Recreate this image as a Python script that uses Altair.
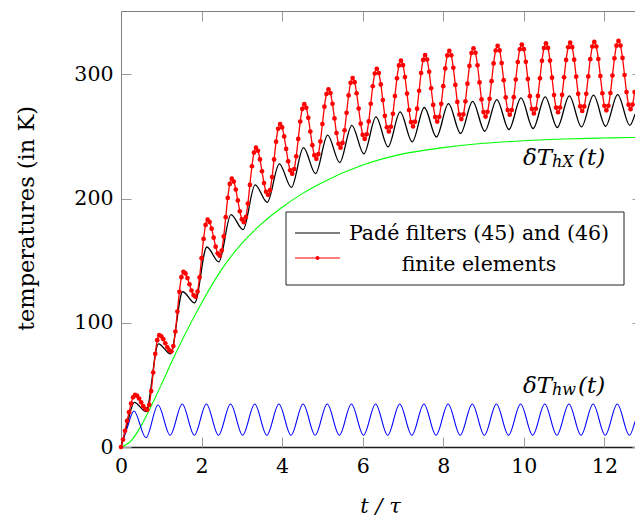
import altair as alt
import pandas as pd

W, H = 514, 436
FONT = "DejaVu Serif"

# axis ticks
x_ticks = [0, 2, 4, 6, 8, 10, 12]
y_ticks = [0, 100, 200, 300]

# green: deltaT_hX(t)
green_t = [0, 0.25, 0.5, 0.75, 1.0, 1.25, 1.5, 2.0, 2.5, 3.0, 3.5, 4.0, 4.5, 5.0,
           6.0, 7.0, 8.0, 9.0, 10.0, 11.0, 12.0, 12.76]
green_v = [0, 5, 17, 33, 50, 68, 85, 116, 143, 164, 180, 193, 204, 213,
           227, 236, 241, 244.5, 246.6, 248, 248.8, 249.2]

# blue: deltaT_hw(t)  (extrema)
blue_t = [0, 0.15, 0.32, 0.62, 0.92, 1.22,
          1.52, 1.82, 2.12, 2.42, 2.72, 3.02, 3.32, 3.62, 3.92, 4.22,
          4.52, 4.82, 5.12, 5.42, 5.72, 6.02, 6.32, 6.62, 6.92, 7.22,
          7.52, 7.82, 8.12, 8.42, 8.72, 9.02, 9.32, 9.62, 9.92, 10.22,
          10.52, 10.82, 11.12, 11.42, 11.72, 12.02, 12.32, 12.62, 12.76]
blue_v = [0, 15, 29, 7.5, 33.8, 9.4,
          34.6, 9.4, 34.6, 9.4, 34.6, 9.4, 34.6, 9.4, 34.6, 9.4,
          34.6, 9.4, 34.6, 9.4, 34.6, 9.4, 34.6, 9.4, 34.6, 9.4,
          34.6, 9.4, 34.6, 9.4, 34.6, 9.4, 34.6, 9.4, 34.6, 9.4,
          34.6, 9.4, 34.6, 9.4, 34.6, 9.4, 34.6, 9.4, 20.5]

# black: Pade filters (extrema)
black_t = [0, 0.15, 0.33, 0.62, 0.93, 1.23, 1.53, 1.83, 2.13, 2.43, 2.73, 3.03,
           3.33, 3.63, 3.93, 4.23, 4.53, 4.83, 5.13, 5.43, 5.73, 6.03, 6.33, 6.63,
           6.93, 7.23, 7.53, 7.83, 8.13, 8.43, 8.73, 9.03, 9.33, 9.63, 9.93, 10.23,
           10.53, 10.83, 11.13, 11.43, 11.73, 12.03, 12.33, 12.63, 12.76]
black_v = [0, 18, 36, 28.5, 83, 75, 125, 116, 161, 149, 187, 175,
           211, 197, 228, 209, 241, 220, 251, 229, 259, 236, 265.7, 241.6,
           269.8, 245.6, 273.3, 249.6, 276.5, 252.4, 278.3, 254.2, 279.7, 255.6, 281, 256.4,
           281.8, 257.2, 282.6, 257.7, 283.2, 258.2, 283.7, 259, 268]

# red: finite elements, sampled every 0.05 t/tau
red_dt = 0.05
red_v = [0, 6, 13, 21, 28, 35, 40, 42,
         41.2, 39, 36, 33, 30.8, 30,
         34, 45, 60, 75, 86, 90,
         89.1, 86.8, 83.5, 80.3, 77.9, 77,
         81.3, 93, 109, 125, 136.7, 141,
         139.7, 136, 131, 126, 122.3, 121,
         125.2, 136.5, 152, 167.5, 178.8, 183,
         181.1, 175.8, 168.5, 161.3, 155.9, 154,
         158.2, 169.5, 185, 200.5, 211.8, 216,
         213.7, 207.3, 198.5, 189.8, 183.3, 181,
         185, 196, 211, 226, 237, 241,
         238.5, 231.5, 222, 212.5, 205.5, 203,
         206.8, 217.3, 231.5, 245.8, 256.2, 260,
         257.3, 250, 240, 230, 222.7, 220,
         223.8, 234, 248, 262, 272.2, 276,
         273.1, 265, 254, 243, 234.9, 232,
         235.8, 246, 260, 274, 284.2, 288,
         284.9, 276.3, 264.5, 252.8, 244.1, 241,
         244.8, 255, 269, 283, 293.2, 297,
         293.7, 284.8, 272.5, 260.3, 251.3, 248,
         251.8, 262.1, 276.3, 290.4, 300.7, 304.5,
         301.1, 291.9, 279.3, 266.6, 257.4, 254,
         257.8, 268.3, 282.5, 296.8, 307.2, 311,
         307.4, 297.8, 284.5, 271.3, 261.6, 258,
         261.9, 272.4, 286.8, 301.1, 311.6, 315.5,
         311.9, 302.1, 288.8, 275.4, 265.6, 262,
         265.8, 276.3, 290.5, 304.8, 315.2, 319,
         315.3, 305.3, 291.5, 277.8, 267.7, 264,
         267.8, 278.3, 292.5, 306.8, 317.2, 321,
         317.3, 307.3, 293.5, 279.8, 269.7, 266,
         269.8, 280.3, 294.5, 308.8, 319.2, 323,
         319.3, 309.1, 295.3, 281.4, 271.2, 267.5,
         271.3, 281.6, 295.8, 309.9, 320.2, 324,
         320.3, 310.1, 296.3, 282.4, 272.2, 268.5,
         272.3, 282.6, 296.8, 310.9, 321.2, 325,
         321.3, 311.1, 297.3, 283.4, 273.2, 269.5,
         273.3, 283.5, 297.6, 311.6, 321.8, 325.6,
         321.9, 311.8, 298.1, 284.3, 274.2, 270.5,
         274.2, 284.4, 298.3, 312.2, 322.4, 326.1,
         322.4, 312.3, 298.6, 284.8, 274.7, 271,
         274.7, 285, 299, 312.9, 323.1, 326.9,
         323.2, 313.2, 299.5, 285.7, 275.6, 272,
         275.7, 285.8]
red_t = [round(i * red_dt, 2) for i in range(len(red_v))]

legend_labels = ["Padé filters (45) and (46)", "finite elements"]

green_df = pd.DataFrame({"t": green_t, "v": green_v})
blue_df = pd.DataFrame({"t": blue_t, "v": blue_v})
black_df = pd.DataFrame({"t": black_t, "v": black_v})
red_df = pd.DataFrame({"t": red_t, "v": red_v})
one = pd.DataFrame({"a": [0]})

xs = alt.Scale(domain=[0, 12.76], nice=False, zero=False)
ys = alt.Scale(domain=[0, 351], nice=False, zero=False)

x_enc = alt.X("t:Q", scale=xs, axis=alt.Axis(
    orient="bottom", values=x_ticks, ticks=False, tickSize=0, grid=False,
    labelFont=FONT, labelFontSize=20.5, labelColor="black", labelPadding=9,
    labelFlush=False, labelOverlap=False,
    domainColor="#1a1a1a", domainWidth=1.3,
    title="t / τ", titleFont=FONT, titleFontSize=21, titleFontStyle="italic",
    titleFontWeight="normal", titleColor="black",
    titleX=259, titleY=65, titleBaseline="alphabetic", titleAlign="center"))
y_enc = alt.Y("v:Q", scale=ys, axis=alt.Axis(
    orient="left", values=y_ticks, ticks=False, tickSize=0, grid=False,
    labelFont=FONT, labelFontSize=20.5, labelColor="black", labelPadding=8,
    labelOverlap=False,
    domainColor="#808080", domainWidth=1,
    title="temperatures (in K)", titleFont=FONT, titleFontSize=22.5,
    titleFontWeight="normal", titleColor="black", titleAngle=270,
    titleX=-88, titleY=207, titleBaseline="alphabetic", titleAlign="center"))

green = alt.Chart(green_df).mark_line(color="#00ff00", strokeWidth=1.1, interpolate="monotone").encode(x=x_enc, y=y_enc)
blue = alt.Chart(blue_df).mark_line(color="#0000ff", strokeWidth=1.1, interpolate="monotone").encode(x=x_enc, y=y_enc)
black = alt.Chart(black_df).mark_line(color="black", strokeWidth=1.3, interpolate="monotone").encode(x=x_enc, y=y_enc)
red = alt.Chart(red_df).mark_line(color="#ff0000", strokeWidth=1.3, interpolate="monotone").encode(x=x_enc, y=y_enc)
red_pts = alt.Chart(red_df).mark_circle(color="#ff0000", size=22, opacity=1).encode(x=x_enc, y=y_enc)

# legend box
leg_box = alt.Chart(one).mark_rect(fill="white", stroke="#222222", strokeWidth=1).encode(
    x=alt.value(165), x2=alt.value(503), y=alt.value(201), y2=alt.value(274))
leg_black = alt.Chart(one).mark_rule(color="black", strokeWidth=1.2).encode(
    x=alt.value(174), x2=alt.value(219), y=alt.value(222))
leg_red = alt.Chart(one).mark_rule(color="#ff0000", strokeWidth=1.2).encode(
    x=alt.value(174), x2=alt.value(219), y=alt.value(247))
leg_dot = alt.Chart(one).mark_circle(color="#ff0000", size=16, opacity=1).encode(
    x=alt.value(196.5), y=alt.value(247))
leg_t1 = alt.Chart(one).mark_text(text=legend_labels[0], font=FONT, fontSize=20.5, align="center",
                                  baseline="alphabetic", color="black").encode(x=alt.value(358), y=alt.value(229))
leg_t2 = alt.Chart(one).mark_text(text=legend_labels[1], font=FONT, fontSize=20.5, align="center",
                                  baseline="alphabetic", color="black").encode(x=alt.value(358), y=alt.value(260))


def math_label(sub, y0):
    a = alt.Chart(one).mark_text(text="δT", font=FONT, fontSize=23, fontStyle="italic", align="left",
                                 baseline="alphabetic", color="black").encode(x=alt.value(402), y=alt.value(y0))
    b = alt.Chart(one).mark_text(text=sub, font=FONT, fontSize=16, fontStyle="italic", align="left",
                                 baseline="alphabetic", color="black").encode(x=alt.value(431), y=alt.value(y0 + 2))
    c = alt.Chart(one).mark_text(text="(t)", font=FONT, fontSize=23, fontStyle="italic", align="left",
                                 baseline="alphabetic", color="black").encode(x=alt.value(457), y=alt.value(y0))
    return [a, b, c]


main = alt.layer(green, blue, black, red, red_pts, leg_box, leg_black, leg_red, leg_dot, leg_t1, leg_t2,
                 *math_label("hX", 154), *math_label("hw", 382))

tick_style = dict(labels=False, grid=False, title="", tickColor="#9a9a9a", tickWidth=1)

ticks_a = alt.Chart(green_df).mark_point(opacity=0).encode(
    x=alt.X("t:Q", scale=xs, axis=alt.Axis(orient="top", offset=-H, values=x_ticks, tickSize=10,
                                           domain=False, **tick_style)),
    y=alt.Y("v:Q", scale=ys, axis=alt.Axis(orient="right", offset=-W, values=y_ticks, tickSize=10,
                                           domain=False, **tick_style)),
)
ticks_b = alt.Chart(green_df).mark_point(opacity=0).encode(
    x=alt.X("t:Q", scale=xs, axis=alt.Axis(orient="bottom", offset=-H, values=x_ticks, tickSize=10,
                                           domain=True, domainColor="#808080", domainWidth=1, **tick_style)),
    y=alt.Y("v:Q", scale=ys, axis=alt.Axis(orient="left", offset=-W, values=y_ticks, tickSize=3,
                                           domain=False, **tick_style)),
)

chart = alt.layer(main, ticks_a, ticks_b).resolve_scale(
    x="independent", y="independent"
).properties(
    width=W, height=H,
    padding={"left": 121, "top": 11, "right": 0, "bottom": 70},
    autosize="none",
    background="white",
).configure_view(stroke="transparent")

chart.save("out.html", embed_options={"renderer": "svg", "actions": False})
